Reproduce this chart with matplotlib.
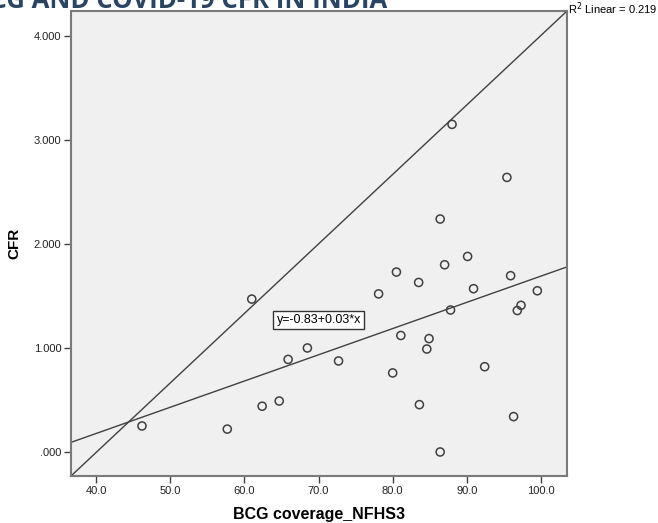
import numpy as np
import matplotlib.pyplot as plt

plt.rcParams['font.family'] = ['Liberation Sans', 'DejaVu Sans']

# BCG coverage (NFHS-3) vs COVID-19 case fatality rate, per state
bcg = [46.2, 57.7, 61.0, 62.4, 64.7, 65.9, 68.5, 72.7, 78.1, 80.0,
       80.5, 81.1, 83.5, 83.6, 84.6, 84.9, 86.4, 86.4, 87.0, 87.8,
       88.0, 90.1, 90.9, 92.4, 95.4, 95.9, 96.3, 96.8, 97.3, 99.5]
cfr = [0.25, 0.22, 1.47, 0.44, 0.49, 0.89, 1.00, 0.875, 1.52, 0.76,
       1.73, 1.12, 1.63, 0.455, 0.99, 1.09, 2.24, 0.00, 1.80, 1.365,
       3.15, 1.88, 1.57, 0.82, 2.64, 1.695, 0.34, 1.36, 1.41, 1.55]

xticks = [40, 50, 60, 70, 80, 90, 100]
xtick_labels = ['40.0', '50.0', '60.0', '70.0', '80.0', '90.0', '100.0']
yticks = [0, 1, 2, 3, 4]
ytick_labels = ['.000', '1.000', '2.000', '3.000', '4.000']

r2_text = 'R$^2$ Linear = 0.219'
eq_text = 'y=-0.83+0.03*x'

fig = plt.figure(figsize=(6.58, 5.23), dpi=100)
ax = fig.add_axes([71/658, 47/523, 496/658, 465/523])
ax.set_facecolor('#f0f0f0')

ax.set_xlim(36.63, 103.5)
ax.set_ylim(-0.231, 4.24)

# linear fit
b, a = np.polyfit(bcg, cfr, 1)
xs = np.array(ax.get_xlim())
ax.plot(xs, a + b * xs, color='#404040', lw=1.0, zorder=2)

# diagonal reference line across the plot
ax.plot([0, 1], [0, 1], transform=ax.transAxes, color='#404040', lw=1.0, zorder=2)

ax.scatter(bcg, cfr, s=34, facecolors='none', edgecolors='#404040',
           linewidths=1.1, zorder=3)

ax.set_xticks(xticks)
ax.set_xticklabels(xtick_labels)
ax.set_yticks(yticks)
ax.set_yticklabels(ytick_labels)
ax.tick_params(direction='out', length=5, width=1, color='#404040',
               labelsize=8, labelcolor='#222222', pad=2)

for s in ax.spines.values():
    s.set_color('#7a7a7a')
    s.set_linewidth(1.5)

ax.set_xlabel('BCG coverage_NFHS3', fontsize=11.5, fontweight='bold', labelpad=8)
ax.set_ylabel('CFR', fontsize=11, fontweight='bold', labelpad=9)

ax.text(0.4994, 0.3355, eq_text, transform=ax.transAxes, ha='center', va='center',
        fontsize=9, bbox=dict(boxstyle='square,pad=0.25', fc='white', ec='#333333', lw=1))

fig.text(568/658, 1 - 9/523, r2_text, ha='left', va='center', fontsize=8)

fig.text(387/658, 1 - 8/523, 'BCG AND COVID-19 CFR IN INDIA', ha='right', va='baseline',
         fontsize=18.5, fontweight='bold', color='#2a4463', family='Open Sans')

fig.savefig('out.png', dpi=100)
